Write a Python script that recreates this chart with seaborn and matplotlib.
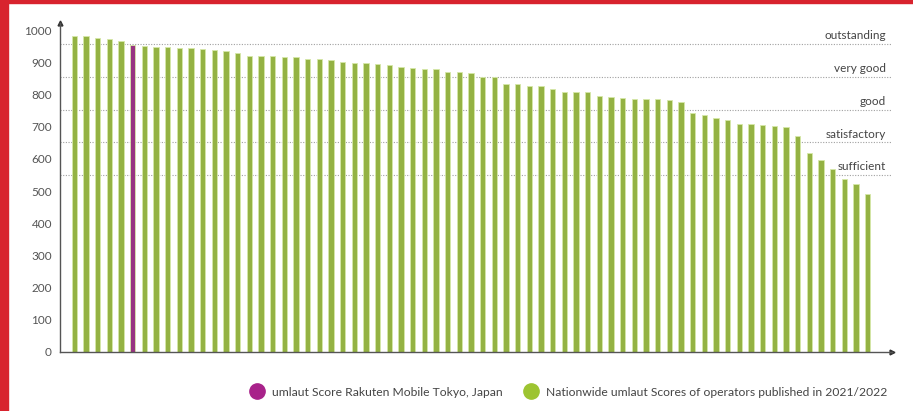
import numpy as np
import pandas as pd
import matplotlib
matplotlib.use("Agg")
import matplotlib.pyplot as plt
import seaborn as sns
from matplotlib.colors import to_hex
from matplotlib.lines import Line2D
from matplotlib.patches import Rectangle

# umlaut scores, sorted high to low
scores = [982, 982, 977, 973, 966, 953, 950, 947, 947, 945,
          945, 941, 938, 936, 928, 921, 921, 919, 917, 916,
          910, 910, 906, 901, 898, 898, 894, 891, 884, 882,
          879, 879, 871, 871, 866, 853, 853, 833, 833, 826,
          826, 817, 807, 807, 807, 795, 791, 788, 786, 785,
          785, 783, 777, 743, 736, 726, 720, 709, 709, 704,
          702, 698, 670, 618, 595, 568, 536, 522, 491]
highlight_index = 5  # Rakuten Mobile Tokyo

group_names = ["umlaut Score Rakuten Mobile Tokyo, Japan",
               "Nationwide umlaut Scores of operators published in 2021/2022"]
group_colors = ["#a8228a", "#9dc431"]

band_labels = ["outstanding", "very good", "good", "satisfactory", "sufficient"]
band_levels = [957, 855, 753, 652, 550]
y_ticks = [0, 100, 200, 300, 400, 500, 600, 700, 800, 900, 1000]

df = pd.DataFrame({
    "rank": np.arange(len(scores)),
    "score": scores,
    "group": [group_names[0] if i == highlight_index else group_names[1]
              for i in range(len(scores))],
})

sns.set_style("white")
plt.rcParams["font.family"] = ["Lato", "DejaVu Sans"]

fig = plt.figure(figsize=(9.13, 4.11), dpi=100)
ax = fig.add_axes([0.066, 0.1436, 0.9107, 0.8004])

sns.barplot(data=df, x="rank", y="score", hue="group",
            palette=dict(zip(group_names, group_colors)),
            dodge=False, width=0.46, legend=False, ax=ax,
            edgecolor="#d6e8a8", linewidth=0.6)

# highlight bar gets an edge in its own tint
for patch in ax.patches:
    if to_hex(patch.get_facecolor()) == group_colors[0]:
        patch.set_edgecolor("#d9a0cc")

ax.set_xlim(-1.2, len(scores) + 1.06)
ax.set_ylim(0, 1022)
ax.set_yticks(y_ticks)
ax.set_yticklabels([str(t) for t in y_ticks], color="#555555", fontsize=8.5)
ax.set_xticks([])
ax.set_xlabel("")
ax.set_ylabel("")
ax.tick_params(axis="y", length=0, pad=6)

for s in ["top", "right"]:
    ax.spines[s].set_visible(False)
for s in ["left", "bottom"]:
    ax.spines[s].set_color("#555555")
    ax.spines[s].set_linewidth(1.0)

# axis arrows
ax.plot(1, 0, ">", transform=ax.transAxes, color="#333333", ms=3.5, clip_on=False)
ax.plot(0, 1, "^", transform=ax.transAxes, color="#333333", ms=3.5, clip_on=False)

# rating bands
for lvl, lab in zip(band_levels, band_labels):
    ax.axhline(lvl, color="#a0a0a0", lw=0.8, ls=(0, (1, 1.4)), zorder=0)
    ax.text(0.9935, lvl + 8, lab, transform=ax.get_yaxis_transform(),
            ha="right", va="bottom", fontsize=8.5, color="#444444")

# legend
handles = [Line2D([], [], marker="o", ls="", color=c, markersize=11)
           for c in group_colors]
fig.legend(handles, group_names, loc="center right",
           bbox_to_anchor=(898 / 913, 1 - 392 / 411), ncol=2, frameon=False,
           fontsize=8.7, labelcolor="#444444", handletextpad=0.6,
           columnspacing=1.8, handlelength=1.2)

# red frame on the left and top
fig.patches.append(Rectangle((0, 0), 7.5 / 913, 1, transform=fig.transFigure,
                             color="#d8232e", zorder=10))
fig.patches.append(Rectangle((0, 1 - 3 / 411), 1, 3 / 411, transform=fig.transFigure,
                             color="#d8232e", zorder=10))

fig.savefig("out.png", dpi=100)
